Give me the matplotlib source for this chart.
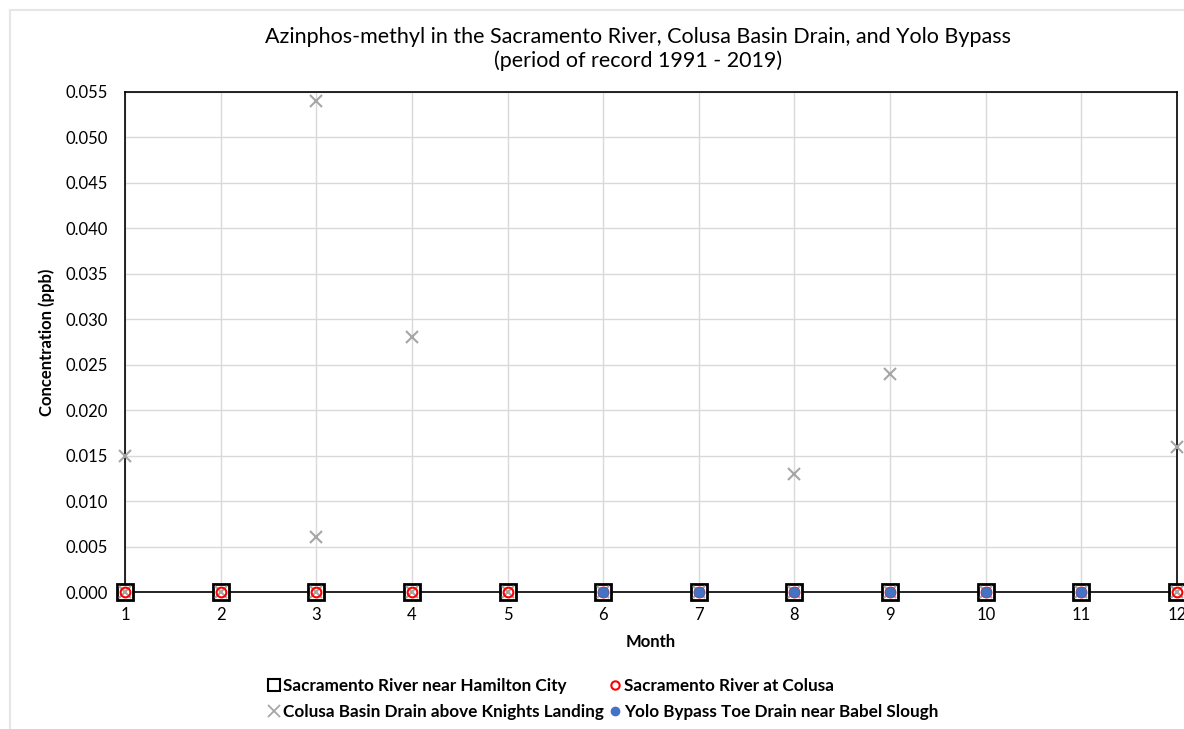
import matplotlib
matplotlib.use("Agg")
import matplotlib.pyplot as plt
from matplotlib.lines import Line2D
from matplotlib.ticker import FormatStrFormatter, MultipleLocator

plt.rcParams['font.family'] = ['Lato', 'DejaVu Sans']

# Data
hamilton_month = [1, 2, 3, 4, 5, 6, 7, 8, 9, 10, 11, 12]
hamilton_conc = [0, 0, 0, 0, 0, 0, 0, 0, 0, 0, 0, 0]

colusa_month = [1, 2, 3, 4, 5, 6, 7, 8, 9, 10, 11, 12]
colusa_conc = [0, 0, 0, 0, 0, 0, 0, 0, 0, 0, 0, 0]

cbd_month = [1, 1, 2, 3, 3, 3, 4, 4, 5, 6, 7, 8, 8, 9, 9, 10, 11, 12, 12]
cbd_conc = [0.015, 0, 0, 0.054, 0.006, 0, 0.028, 0, 0, 0, 0, 0.013, 0, 0.024, 0, 0, 0, 0.016, 0]

yolo_month = [6, 7, 8, 9, 10, 11]
yolo_conc = [0, 0, 0, 0, 0, 0]

labels = ["Sacramento River near Hamilton City",
          "Sacramento River at Colusa",
          "Colusa Basin Drain above Knights Landing",
          "Yolo Bypass Toe Drain near Babel Slough"]

fig = plt.figure(figsize=(11.84, 7.29), dpi=100)
ax = fig.add_axes([0.1056, 0.1879, 0.9941 - 0.1056, 0.8738 - 0.1879])

grid_c = '#d9d9d9'
ax.set_axisbelow(True)
ax.grid(True, color=grid_c, linewidth=1)

h1, = ax.plot(hamilton_month, hamilton_conc, ls='none', marker='s', ms=11.5,
              mfc='white', mec='black', mew=2, clip_on=False, zorder=3, label=labels[0])
h3, = ax.plot(cbd_month, cbd_conc, ls='none', marker='x', ms=9,
              mec='#a6a6a6', mew=1.5, clip_on=False, zorder=4, label=labels[2])
h2, = ax.plot(colusa_month, colusa_conc, ls='none', marker='o', ms=7,
              mfc='none', mec='#ff0000', mew=1.5, clip_on=False, zorder=5, label=labels[1])
h4, = ax.plot(yolo_month, yolo_conc, ls='none', marker='o', ms=7.5,
              mfc='#4472c4', mec='#4472c4', mew=0.5, clip_on=False, zorder=6, label=labels[3])

ax.set_xlim(1, 12)
ax.set_ylim(0, 0.055)
ax.xaxis.set_major_locator(MultipleLocator(1))
ax.yaxis.set_major_locator(MultipleLocator(0.005))
ax.yaxis.set_major_formatter(FormatStrFormatter('%.3f'))
ax.tick_params(axis='both', length=0, labelsize=12, colors='#000000')
ax.tick_params(axis='y', pad=12)
ax.tick_params(axis='x', pad=11)

for s in ax.spines.values():
    s.set_color('black')
    s.set_linewidth(1.2)

ax.set_xlabel('Month', fontsize=12, fontweight='bold', labelpad=8)
ax.set_ylabel('Concentration (ppb)', fontsize=12, fontweight='bold', labelpad=8)

fig.text(0.5385, 0.949, 'Azinphos-methyl in the Sacramento River, Colusa Basin Drain, and Yolo Bypass',
         ha='center', va='center', fontsize=15.5)
fig.text(0.5385, 0.917, '(period of record 1991 - 2019)', ha='center', va='center', fontsize=15.5)

# Legend handles
lh1 = Line2D([], [], ls='none', marker='s', ms=9, mfc='white', mec='black', mew=1.5)
lh2 = Line2D([], [], ls='none', marker='o', ms=6, mfc='none', mec='#ff0000', mew=1.5)
lh3 = Line2D([], [], ls='none', marker='x', ms=8, mec='#a6a6a6', mew=1.3)
lh4 = Line2D([], [], ls='none', marker='o', ms=6, mfc='#4472c4', mec='#4472c4')
leg = fig.legend([lh1, lh3, lh2, lh4], [labels[0], labels[2], labels[1], labels[3]],
                 ncol=2, loc='center', bbox_to_anchor=(0.5095, 0.0415), frameon=False,
                 prop={'weight': 'bold', 'size': 12.3}, handlelength=0.7,
                 handletextpad=0.2, columnspacing=0.3, labelspacing=0.6)

# light chart-area border
fig.add_artist(Line2D([10 / 1184, 10 / 1184], [0, 1 - 10 / 729], transform=fig.transFigure,
                      color='#e6e6e6', lw=1.5))
fig.add_artist(Line2D([10 / 1184, 1], [1 - 10 / 729, 1 - 10 / 729], transform=fig.transFigure,
                      color='#e6e6e6', lw=1.5))

fig.savefig('out.png', dpi=100, facecolor='white')
